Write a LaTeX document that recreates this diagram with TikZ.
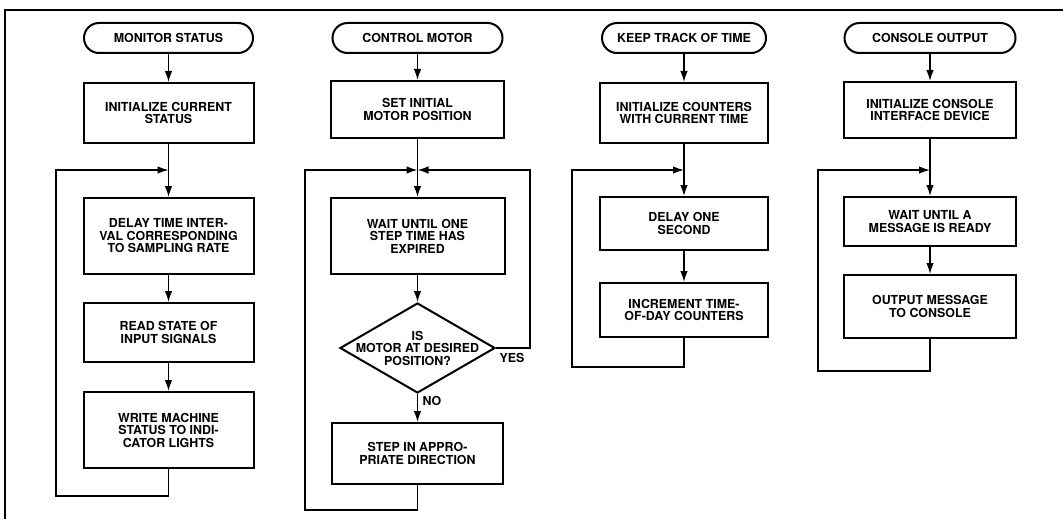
\documentclass[tikz,border=0pt]{standalone}
\usepackage{fontspec}
\setmainfont{TeX Gyre Heros}
\usetikzlibrary{arrows.meta,shapes.geometric}
\begin{document}
\begin{tikzpicture}[x=1pt,y=-1pt,
  txt/.style={align=center,font=\bfseries\fontsize{12.4}{12.5}\selectfont,inner sep=0pt},
  box/.style={txt,draw,line width=2pt},
  term/.style={box,rounded corners=15pt,minimum height=30pt},
  dia/.style={draw,diamond,line width=2pt,inner sep=0pt},
  line/.style={line width=1.4pt},
  flow/.style={line,-{Latex[length=11pt,width=7.5pt]}},
  lbl/.style={txt}]
\useasboundingbox (0,0) rectangle (1063,519);
% frame
\draw[line width=1.8pt] (5,519) -- (5,10) -- (1063,10);

% ---------- column 1
\node[term,minimum width=169pt] (t1) at (168.5,38) {MONITOR STATUS};
\node[box,minimum width=170pt,minimum height=60pt] (a1) at (168.5,113) {INITIALIZE CURRENT\\STATUS};
\node[box,minimum width=170pt,minimum height=76pt] (a2) at (168.5,236) {DELAY TIME INTER-\\VAL CORRESPONDING\\TO SAMPLING RATE};
\node[box,minimum width=170pt,minimum height=59pt] (a3) at (168.5,332.5) {READ STATE OF\\INPUT SIGNALS};
\node[box,minimum width=170pt,minimum height=76pt] (a4) at (168.5,430) {WRITE MACHINE\\STATUS TO INDI-\\CATOR LIGHTS};
\coordinate (j1) at (168.5,170);
\draw[flow] (t1) -- (a1);
\draw[flow] (a1) -- (a2);
\draw[flow] (a2) -- (a3);
\draw[flow] (a3) -- (a4);
\draw[flow] (a4.south) |- (56,496) |- (j1);

% ---------- column 2
\node[term,minimum width=170pt] (t2) at (417.5,38) {CONTROL MOTOR};
\node[box,minimum width=173pt,minimum height=57pt] (b1) at (417.5,109.5) {SET INITIAL\\MOTOR POSITION};
\node[box,minimum width=174pt,minimum height=76pt] (b2) at (417.5,236) {WAIT UNTIL ONE\\STEP TIME HAS\\EXPIRED};
\node[dia,minimum width=155pt,minimum height=90pt] (dec) at (417.5,348) {};
\node[txt] (dect) at (dec.center) {IS\\MOTOR AT DESIRED\\POSITION?};
\node[box,minimum width=171pt,minimum height=61pt] (b3) at (417.5,453.5) {STEP IN APPRO-\\PRIATE DIRECTION};
\coordinate (j2) at (417.5,170);
\draw[flow] (t2) -- (b1);
\draw[flow] (b1) -- (b2);
\draw[flow] (b2) -- (dec);
\draw[flow] (dec) -- (b3);
\node[lbl] (no) at (432,401) {NO};
\draw[flow] (dec.east) -| (530,170) -- (j2);
\node[lbl] (yes) at (512,358) {YES};
\draw[flow] (b3.south) |- (305,510) |- (j2);

% ---------- column 3
\node[term,minimum width=164pt] (t3) at (684,38) {KEEP TRACK OF TIME};
\node[box,minimum width=168pt,minimum height=60pt] (c1) at (684,113) {INITIALIZE COUNTERS\\WITH CURRENT TIME};
\node[box,minimum width=168pt,minimum height=53pt] (c2) at (684,223.5) {DELAY ONE\\SECOND};
\node[box,minimum width=168pt,minimum height=54pt] (c3) at (684,310) {INCREMENT TIME-\\OF-DAY COUNTERS};
\coordinate (j3) at (684,170);
\draw[flow] (t3) -- (c1);
\draw[flow] (c1) -- (c2);
\draw[flow] (c2) -- (c3);
\draw[flow] (c3.south) |- (572,367) |- (j3);

% ---------- column 4
\node[term,minimum width=171pt] (t4) at (930,38) {CONSOLE OUTPUT};
\node[box,minimum width=172pt,minimum height=56pt] (d1) at (930,110) {INITIALIZE CONSOLE\\INTERFACE DEVICE};
\node[box,minimum width=172pt,minimum height=49pt] (d2) at (930,221.5) {WAIT UNTIL A\\MESSAGE IS READY};
\node[box,minimum width=172pt,minimum height=63pt] (d3) at (930,306.5) {OUTPUT MESSAGE\\TO CONSOLE};
\coordinate (j4) at (930,170);
\draw[flow] (t4) -- (d1);
\draw[flow] (d1) -- (d2);
\draw[flow] (d2) -- (d3);
\draw[flow] (d3.south) |- (818,371) |- (j4);
\end{tikzpicture}
\end{document}
